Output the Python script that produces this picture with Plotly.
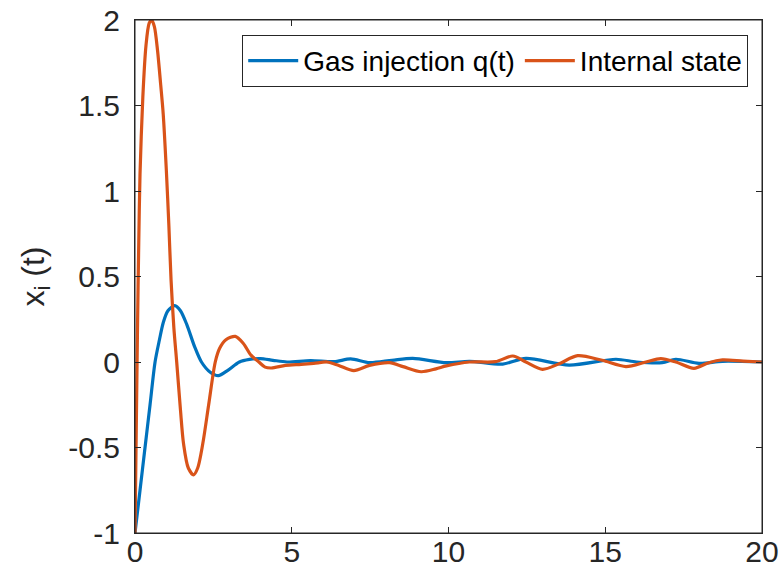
import plotly.graph_objects as go

# Gas injection q(t) (blue)
t_gas = [0, 0.16, 0.32, 0.48, 0.64, 0.78, 0.9, 1.05, 1.27, 1.45, 1.65, 1.9, 2.12, 2.4, 2.66,
         2.95, 3.33, 3.65, 4.0, 4.4, 4.85, 5.6, 6.35, 6.88, 7.48, 8.2, 8.86, 9.93, 10.67,
         11.73, 12.47, 13.85, 15.34, 16.0, 16.82, 17.25, 17.99, 18.74, 20]
y_gas = [-1, -0.75, -0.5, -0.25, 0.0, 0.13, 0.23, 0.3, 0.33, 0.3, 0.22, 0.09, 0.0, -0.06, -0.08,
         -0.05, 0.0, 0.015, 0.02, 0.01, 0.0, 0.008, 0.002, 0.018, -0.004, 0.01, 0.021, -0.004, 0.004,
         -0.012, 0.021, -0.018, 0.016, 0.0, -0.004, 0.016, -0.008, 0.004, 0.0]

# Internal state (orange)
t_int = [0, 0.04, 0.08, 0.12, 0.16, 0.25, 0.35, 0.45, 0.53, 0.62, 0.72, 0.82, 0.9, 1.0, 1.08,
         1.15, 1.24, 1.33, 1.45, 1.55, 1.7, 1.87, 2.0, 2.16, 2.35, 2.56, 2.7, 2.9, 3.2, 3.45,
         3.7, 3.95, 4.15, 4.35, 4.8, 5.3, 5.7, 6.13, 6.5, 6.98, 7.48, 8.12, 8.55, 9.13, 9.6,
         9.93, 10.67, 11.5, 12.05, 12.47, 13.0, 13.53, 14.12, 14.9, 15.66, 16.3, 16.77, 17.25,
         17.83, 18.3, 18.74, 19.4, 20]
y_int = [-1, -0.4, 0.2, 0.7, 1.1, 1.55, 1.85, 1.98, 2.0, 1.96, 1.82, 1.62, 1.45, 1.12, 0.8,
         0.48, 0.2, 0.0, -0.28, -0.48, -0.62, -0.66, -0.62, -0.48, -0.25, 0.0, 0.08, 0.13, 0.15, 0.11,
         0.04, 0.0, -0.03, -0.035, -0.02, -0.014, -0.008, 0.0, -0.02, -0.05, -0.02, -0.004, -0.027, -0.057, -0.04,
         -0.023, 0.0, 0.002, 0.035, 0.0, -0.043, -0.01, 0.037, 0.01, -0.027, 0.0, 0.02, 0.0,
         -0.037, -0.004, 0.012, 0.005, 0.0]

x_ticks = [0, 5, 10, 15, 20]
y_ticks = [-1, -0.5, 0, 0.5, 1, 1.5, 2]
y_tick_labels = ["-1", "-0.5", "0", "0.5", "1", "1.5", "2"]

AX = "#262626"
FONT = "Liberation Sans, Arial, Helvetica, sans-serif"

fig = go.Figure()
fig.add_trace(go.Scatter(x=t_gas, y=y_gas, mode="lines", name="Gas injection q(t)",
                         line=dict(color="#0072BD", width=3.2, shape="spline", smoothing=0.8)))
fig.add_trace(go.Scatter(x=t_int, y=y_int, mode="lines", name="Internal state",
                         line=dict(color="#D95319", width=3.2, shape="spline", smoothing=0.8)))

axis_common = dict(showline=True, linecolor=AX, linewidth=1, mirror="ticks",
                   ticks="inside", ticklen=6, tickcolor=AX, showgrid=False, zeroline=False,
                   automargin=False, ticklabeloverflow="allow",
                   tickfont=dict(family=FONT, size=30, color=AX))

fig.update_xaxes(range=[0, 20], tickvals=x_ticks, ticklabelstandoff=-8, **axis_common)
fig.update_yaxes(range=[-1, 2], tickvals=y_ticks, ticktext=y_tick_labels, ticklabelstandoff=8,
                 title=dict(text="x<sub>i</sub> (t)", font=dict(family=FONT, size=32, color=AX),
                            standoff=14),
                 **axis_common)

# axes box (MATLAB "box on")
fig.add_shape(type="rect", xref="paper", yref="paper", x0=0, y0=0, x1=1, y1=1,
              line=dict(color=AX, width=1), fillcolor="rgba(0,0,0,0)", layer="above")

fig.update_layout(
    width=781, height=581,
    margin=dict(l=135, r=19, t=20, b=48, autoexpand=False),
    paper_bgcolor="white", plot_bgcolor="white",
    showlegend=True,
    legend=dict(orientation="h", x=0.978, xanchor="right", y=0.971, yanchor="top",
                bgcolor="white", bordercolor=AX, borderwidth=1,
                font=dict(family=FONT, size=28, color="#000000"),
                itemwidth=50, tracegroupgap=0),
)

# remove the page's default body margin so the figure sits at the window's top-left corner
fig.write_html("out.html",
               config={"displayModeBar": False},
               post_script="document.body.style.margin='0';document.body.style.overflow='hidden';")
